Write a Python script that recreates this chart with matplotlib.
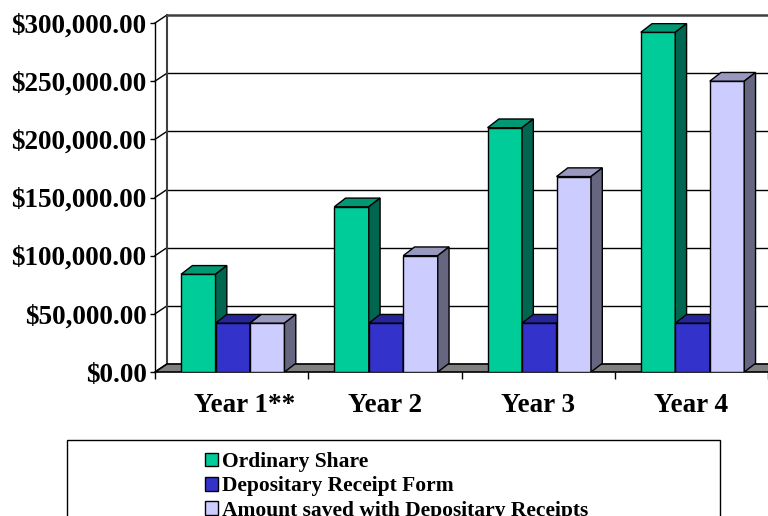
import matplotlib.pyplot as plt
import matplotlib.transforms as mtransforms
from matplotlib.patches import Polygon, Rectangle, Patch
from matplotlib.ticker import StrMethodFormatter

# ---------------- DATA ----------------
years = ["Year 1**", "Year 2", "Year 3", "Year 4"]
series_names = ["Ordinary Share", "Depositary Receipt Form",
                "Amount saved with Depositary Receipts"]
ordinary = [84000, 142000, 210000, 292000]
receipt = [42000, 42000, 42000, 42000]
saved = [42000, 100000, 168000, 250000]
yticks = [0, 50000, 100000, 150000, 200000, 250000, 300000]

front_cols = ["#00CC99", "#3333CC", "#CCCCFF"]
top_cols = ["#009973", "#262699", "#9999BF"]
side_cols = ["#006650", "#1A1A66", "#666680"]

plt.rcParams["font.family"] = ["Liberation Serif", "DejaVu Serif"]
plt.rcParams["font.weight"] = "bold"

fig = plt.figure(figsize=(7.68, 5.16), dpi=100)
ax = fig.add_axes([155 / 768, 144 / 516, 613 / 768, 349 / 516])
ax.set_xlim(0, 4)
ax.set_ylim(0, 300000)

# pixel -> data conversion for the oblique depth
px_x = 4 / 613.0
px_y = 300000 / 349.0
wall_dx, wall_dy = 12 * px_x, 8 * px_y
bar_dx, bar_dy = 11.3 * px_x, 8.7 * px_y
bar_w = 0.225
group_off = 0.17

# ---------------- WALLS / FLOOR ----------------
for t in yticks:
    lw = 1.8 if t == yticks[-1] else 1.0
    col = "#404040" if t == yticks[-1] else "black"
    ax.plot([wall_dx, 4 + wall_dx], [t + wall_dy, t + wall_dy],
            color=col, lw=lw, zorder=1, clip_on=False)
    ax.plot([0, wall_dx], [t, t + wall_dy], color="black", lw=1,
            zorder=1, clip_on=False)
ax.plot([wall_dx, wall_dx], [wall_dy, 300000 + wall_dy], color="#404040",
        lw=1.5, zorder=1, clip_on=False)
ax.plot([0, 0], [0, 300000], color="black", lw=1, zorder=1, clip_on=False)

floor = Polygon([(0, 0), (4, 0), (4 + wall_dx, wall_dy), (wall_dx, wall_dy)],
                closed=True, facecolor="#808080", edgecolor="black",
                lw=1.2, zorder=2, clip_on=False)
ax.add_patch(floor)


# ---------------- BARS ----------------
def bar3d(x0, h, k, z):
    ax.bar(x0, h, width=bar_w, align="edge", color=front_cols[k],
           edgecolor="black", lw=1, zorder=z)
    top = Polygon([(x0, h), (x0 + bar_w, h), (x0 + bar_w + bar_dx, h + bar_dy),
                   (x0 + bar_dx, h + bar_dy)], closed=True,
                  facecolor=top_cols[k], edgecolor="black", lw=1, zorder=z)
    side = Polygon([(x0 + bar_w, 0), (x0 + bar_w + bar_dx, bar_dy),
                    (x0 + bar_w + bar_dx, h + bar_dy), (x0 + bar_w, h)],
                   closed=True, facecolor=side_cols[k], edgecolor="black",
                   lw=1, zorder=z)
    ax.add_patch(top)
    ax.add_patch(side)


z = 3
for i in range(len(years)):
    for k, vals in enumerate([ordinary, receipt, saved]):
        bar3d(i + group_off + k * bar_w, vals[i], k, z)
        z += 1

# ---------------- AXES ----------------
for s in ax.spines.values():
    s.set_visible(False)
ax.set_yticks(yticks)
ax.yaxis.set_major_formatter(StrMethodFormatter("${x:,.2f}"))
ax.tick_params(axis="y", length=3.5, width=1, pad=2.5, labelsize=19.5)
ax.set_xticks([0, 1, 2, 3, 4])
ax.set_xticklabels([])
ax.set_xticks([i + 0.5 for i in range(len(years))], minor=True)
ax.set_xticklabels(years, minor=True)
ax.tick_params(axis="x", which="major", length=5, width=1)
ax.tick_params(axis="x", which="minor", length=0, pad=15, labelsize=19.5)
for lbl in ax.get_yticklabels() + ax.get_xticklabels(minor=True):
    lbl.set_fontweight("bold")
# first label sits a little right of its category centre in the original
first = ax.get_xticklabels(minor=True)[0]
first.set_transform(first.get_transform() +
                    mtransforms.ScaledTranslation(0.13, 0, fig.dpi_scale_trans))

# ---------------- LEGEND ----------------
box = Rectangle((67 / 768, -0.2), 653 / 768, 0.2 + 76 / 516,
                transform=fig.transFigure, facecolor="white",
                edgecolor="black", lw=1, clip_on=False)
fig.patches.append(box)
handles = [Patch(facecolor=c, edgecolor="black", lw=1) for c in front_cols]
leg = fig.legend(handles, series_names, loc="upper left",
                 bbox_to_anchor=(205 / 768, 64 / 516), frameon=False,
                 prop={"family": "Liberation Serif", "weight": "bold",
                       "size": 15.5},
                 handlelength=0.6, handleheight=0.6, handletextpad=0.2,
                 labelspacing=0.2, borderpad=0, borderaxespad=0)

fig.savefig("out.png", dpi=100)
